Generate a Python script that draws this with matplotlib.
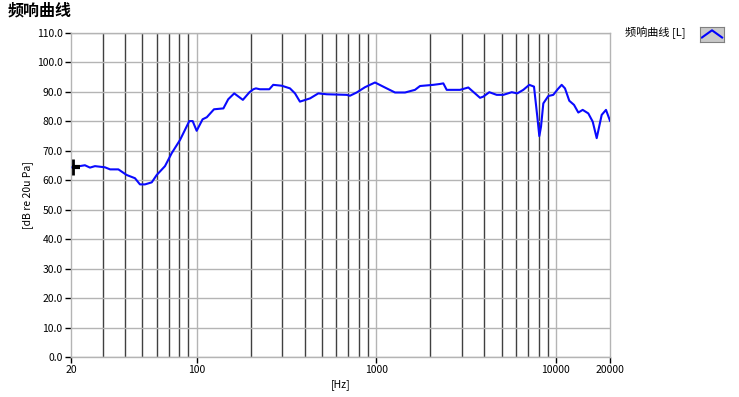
import matplotlib
matplotlib.use("Agg")
import matplotlib.pyplot as plt
from matplotlib.ticker import FixedLocator, FormatStrFormatter, NullFormatter
import numpy as np

plt.rcParams['font.family'] = ['Noto Sans CJK SC', 'DejaVu Sans']

title = "频响曲线"
legend_label = "频响曲线 [L]"
x_label = "[Hz]"
y_label = "[dB re 20u Pa]"

freq = [20.4, 23.9, 25.5, 27.2, 30.9, 33.0, 36.7, 40.8, 45.4, 48.4, 51.6, 56.3,
        60.0, 66.7, 72.7, 80.9, 91.1, 95.1, 100.1, 108, 114, 125, 141, 150, 162,
        181, 197, 207, 214, 225, 254, 267, 298, 331, 353, 376, 428, 476, 530,
        684, 714, 778, 866, 984, 1143, 1272, 1446, 1643, 1752, 2078, 2265, 2362,
        2467, 2926, 3254, 3781, 3944, 4258, 4682, 5094, 5676, 6095, 6584, 7108,
        7551, 7878, 8084, 8262, 8509, 9070, 9669, 10230, 10766, 11232, 11868,
        12609, 13323, 14094, 15146, 16026, 16866, 17980, 19000, 20000]
level = [64.4, 65.1, 64.3, 64.8, 64.4, 63.7, 63.7, 61.8, 60.7, 58.6, 58.6, 59.3,
         61.8, 64.8, 69.2, 73.7, 80.1, 80.1, 76.8, 80.7, 81.4, 84.1, 84.4, 87.5, 89.5,
         87.3, 89.9, 90.9, 91.2, 90.9, 90.9, 92.4, 92.1, 91.2, 89.5, 86.7, 87.8, 89.5, 89.2,
         89.0, 88.7, 89.8, 91.6, 93.2, 91.2, 89.8, 89.8, 90.7, 92.0, 92.4, 92.7, 92.9,
         90.7, 90.7, 91.5, 88.0, 88.4, 89.9, 89.0, 89.0, 89.9, 89.5, 90.7, 92.4,
         91.8, 81.6, 75.0, 78.2, 86.1, 88.6, 89.0, 90.9, 92.4, 91.2, 87.0,
         85.6, 83.0, 83.9, 82.7, 79.9, 74.3, 82.2, 83.9, 80.2]

x_major = [20, 100, 1000, 10000, 20000]
x_minor_grid = [30, 40, 50, 60, 70, 80, 90, 200, 300, 400, 500, 600, 700, 800, 900,
                2000, 3000, 4000, 5000, 6000, 7000, 8000, 9000]
x_major_grid = [100, 1000, 10000]
y_ticks = [0, 10, 20, 30, 40, 50, 60, 70, 80, 90, 100, 110]

fig = plt.figure(figsize=(7.39, 3.97), dpi=100)
ax = fig.add_axes([71/739, 40/397, 539/739, 324/397])
ax.set_xscale('log')
ax.set_xlim(20, 20000)
ax.set_ylim(0, 110)

for v in x_minor_grid:
    ax.axvline(v, color='#404040', lw=1.0, zorder=1)
for v in x_major_grid:
    ax.axvline(v, color='#b4b4b4', lw=1.0, zorder=1)
for v in y_ticks:
    ax.axhline(v, color='#b4b4b4', lw=1.0, zorder=1)

ax.plot(freq, level, color='#0a0aff', lw=1.5, zorder=3)
ax.plot([freq[0]], [level[0]], marker='|', color='black', ms=12, mew=2, zorder=4, clip_on=False)
ax.plot([freq[0] * 1.04], [level[0]], marker='_', color='black', ms=6, mew=3, zorder=4, clip_on=False)

ax.xaxis.set_major_locator(FixedLocator(x_major))
ax.xaxis.set_minor_locator(FixedLocator([]))
ax.xaxis.set_major_formatter(FormatStrFormatter('%d'))
ax.xaxis.set_minor_formatter(NullFormatter())
ax.yaxis.set_major_locator(FixedLocator(y_ticks))
ax.yaxis.set_major_formatter(FormatStrFormatter('%.1f'))
ax.tick_params(axis='both', labelsize=7.5, colors='black', length=4, width=1, direction='out', pad=2)
for s in ax.spines.values():
    s.set_color('#b4b4b4')
    s.set_linewidth(1.0)

ax.set_xlabel(x_label, fontsize=7.5, labelpad=3)
ax.set_ylabel(y_label, fontsize=7.5, labelpad=3)

fig.text(8/739, 1 - 10/397, title, fontsize=11.5, fontweight='bold', va='center', ha='left')
fig.text(625/739, 1 - 33/397, legend_label, fontsize=8, va='center', ha='left')

lax = fig.add_axes([700/739, 1 - 42/397, 24/739, 15/397])
lax.set_facecolor('#c8c8c8')
lax.set_xlim(0, 1)
lax.set_ylim(0, 1)
lax.plot([0.08, 0.5, 0.92], [0.3, 0.78, 0.3], color='#0000ff', lw=1.5)
lax.set_xticks([])
lax.set_yticks([])
for s in lax.spines.values():
    s.set_color('#808080')

fig.savefig('out.png', dpi=100)
